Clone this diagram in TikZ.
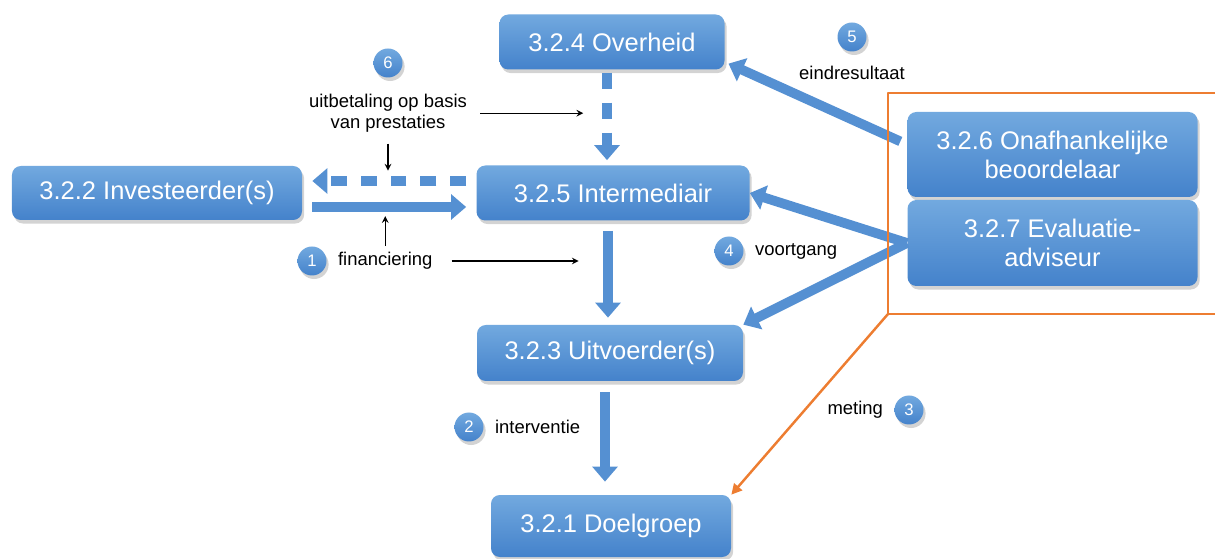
\documentclass[tikz,border=0pt]{standalone}
\usepackage{fontspec}
\setmainfont{Liberation Sans}
\usetikzlibrary{positioning,shadows,arrows.meta}
\definecolor{blauw}{HTML}{5590D2}
\definecolor{blauwlicht}{HTML}{72A9DF}
\definecolor{blauwdonker}{HTML}{4482CB}
\definecolor{oranje}{HTML}{ED7D31}
\begin{document}
\begin{tikzpicture}[>=stealth,line join=round,font=\fontsize{10.5}{12}\selectfont,
		schaduw/.style={drop shadow={shadow xshift=1.2pt,shadow yshift=-2pt,opacity=0.35}},
		vak/.style={rectangle,rounded corners=5pt,top color=blauwlicht,bottom color=blauwdonker,text=white,align=center,inner sep=2pt,font=\fontsize{14.5}{16.5}\selectfont,schaduw},
		bol/.style={circle,minimum size=0.58cm,inner sep=0pt,top color=blauwlicht,bottom color=blauwdonker,text=white,font=\fontsize{9.5}{10}\selectfont,schaduw},
		blok/.style={draw=blauw,line width=5.5pt,-{Triangle[width=14pt,length=8.5pt]}},
		blokstreep/.style={blok,dash pattern=on 9pt off 8pt},
		dun/.style={->,line width=0.7pt},
		oranjelijn/.style={draw=oranje,line width=1.4pt}]
	\useasboundingbox (0,0) rectangle (24.3,-11.18);
	\clip (0,0) rectangle (24.3,-11.18);
	\node[vak,minimum width=4.5cm,minimum height=1.1cm] (ovh) at (12.24,-0.84) {3.2.4 Overheid};
	\node[vak,minimum width=5.46cm,minimum height=1.1cm] (int) at (12.26,-3.86) {3.2.5 Intermediair};
	\node[vak,minimum width=5.8cm,minimum height=1.08cm] (inv) at (3.14,-3.86) {3.2.2 Investeerder(s)};
	\node[vak,minimum width=5.32cm,minimum height=1.12cm] (uit) at (12.2,-7.06) {3.2.3 Uitvoerder(s)};
	\node[vak,minimum width=4.8cm,minimum height=1.24cm] (doel) at (12.22,-10.52) {3.2.1 Doelgroep};
	\node[vak,minimum width=5.8cm,minimum height=1.7cm] (beo) at (21.05,-3.09) {3.2.6 Onafhankelijke\\beoordelaar};
	\node[vak,minimum width=5.8cm,minimum height=1.72cm] (eva) at (21.05,-4.86) {3.2.7 Evaluatie-\\adviseur};
	\node[bol] (b6) at (7.76,-1.26) {6};
	\node[bol] (b5) at (17.04,-0.74) {5};
	\node[bol] (b1) at (6.24,-5.22) {1};
	\node[bol] (b4) at (14.58,-5.02) {4};
	\node[bol] (b2) at (9.38,-8.54) {2};
	\node[bol] (b3) at (18.18,-8.2) {3};
	\node[align=center,below=0.2cm of b6] (uitb) {uitbetaling op basis\\van prestaties};
	\node[below=0.16cm of b5] (eind) {eindresultaat};
	\node[right=0.1cm of b1] (fin) {financiering};
	\node[right=0.1cm of b4] (voort) {voortgang};
	\node[right=0.1cm of b2] (interv) {interventie};
	\node[left=0.1cm of b3] (met) {meting};
	\draw[blokstreep,shorten <=0.06cm,shorten >=0.1cm] ([xshift=-0.1cm]ovh.south) -- ([xshift=-0.1cm]ovh.south |- int.north);
	\draw[blokstreep,shorten <=0.2cm,shorten >=0.2cm] ([yshift=2.4mm]int.west) -- ([yshift=2.4mm]inv.east);
	\draw[blok,shorten <=0.2cm,shorten >=0.2cm] ([yshift=-2.8mm]inv.east) -- ([yshift=-2.8mm]int.west);
	\draw[blok,shorten <=0.2cm,shorten >=0.14cm] ([xshift=-0.1cm]int.south) -- ([xshift=-0.1cm]int.south |- uit.north);
	\draw[blok,shorten <=0.22cm,shorten >=0.26cm] ([xshift=-0.1cm]uit.south) -- ([xshift=-0.1cm]uit.south |- doel.north);
	\draw[blok,shorten <=0.15cm,shorten >=0.08cm] ([yshift=2mm]beo.west) -- ([yshift=-4mm]ovh.east);
	\draw[blok] (eva.west) -- (int.east);
	\draw[blok] (eva.west) -- (uit.north east);
	\coordinate (p6r) at ([xshift=2.2cm]uitb.east);
	\coordinate (p6o) at ([yshift=-0.64cm]uitb.south);
	\coordinate (p1b) at ([yshift=0.6cm]fin.north);
	\coordinate (p1r) at ([xshift=2.8cm]fin.east);
	\draw[dun] ([xshift=1.4mm]uitb.east) -- (p6r);
	\draw[dun] ([yshift=-1mm]uitb.south) -- (p6o);
	\draw[dun] (fin.north) -- (p1b);
	\draw[dun] ([xshift=2.6mm]fin.east) -- (p1r);
	\coordinate (kh) at (17.76,-6.28);
	\draw[oranjelijn] (24.6,-1.86) -| (kh) -- (24.6,-6.28);
	\draw[oranjelijn,-{Triangle[length=6pt,width=6pt]}] (kh) -- (doel.north east);
\end{tikzpicture}
\end{document}
